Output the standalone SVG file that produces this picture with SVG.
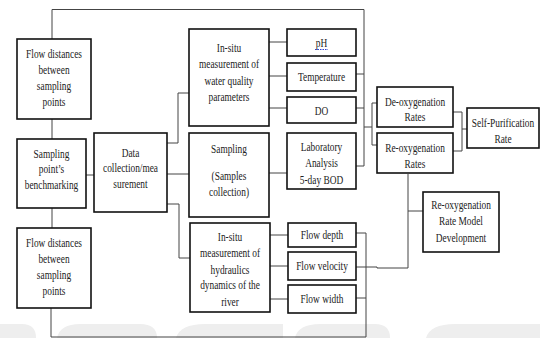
<svg xmlns="http://www.w3.org/2000/svg" width="540" height="338" viewBox="0 0 540 338" font-family="'Liberation Serif', 'Times New Roman', serif">
<style>
.bx{fill:#fff;stroke:#111;stroke-width:1.6}
.cn{fill:none;stroke:#444;stroke-width:1}
.wm{fill:#eeeeee;stroke:none}
text{font-family:'Liberation Serif','Times New Roman',serif;font-size:12px;font-weight:400;fill:#222;text-anchor:middle}
</style>
<rect width="540" height="338" fill="#fff"/>
<g id="watermark">
<path class="wm" d="M0,324 H22 Q36,324 36,338 H0 Z"/>
<path class="wm" d="M57,338 Q60,324 80,324 H140 Q157,324 157,338 Z"/>
<path class="wm" d="M176,338 Q180,324 205,324 H283 V338 Z"/>
<path class="wm" d="M295,338 Q298,324 320,324 H375 Q390,324 390,338 Z"/>
<path class="wm" d="M426,338 Q430,324 455,324 H540 V338 Z"/>
</g>
<g id="connectors">
<path class="cn" d="M52,39 V9.5 H364 V166 H356"/>
<path class="cn" d="M356,74 H364 M356,108 H364"/>
<path class="cn" d="M364,127 H372 M377,103 H372 V145 H377"/>
<path class="cn" d="M52,119 V139 M52,208 V228"/>
<path class="cn" d="M86,175 H94"/>
<path class="cn" d="M51,308 V337 H366 V233 H356 M356,298 H366"/>
<path class="cn" d="M356,267 H377 V268 H408 V174 M408,211 H423"/>
<path class="cn" d="M167,143 H178 V93 H189 M167,174 H189 M167,204 H179 V258 H190"/>
<path class="cn" d="M269,42 H287 M269,76 H287 M269,108 H287"/>
<path class="cn" d="M269,173 H287"/>
<path class="cn" d="M270,235 H288 M270,266 H288 M270,299 H288"/>
<path class="cn" d="M453,112 H462 V151 H453 M462,129 H467"/>
</g>
<g id="n-flowdist1">
<rect class="bx" x="17" y="39" width="74" height="80"/>
<text transform="translate(54,58) scale(0.78,1)">Flow distances</text>
<text transform="translate(54,74) scale(0.78,1)">between</text>
<text transform="translate(54,90) scale(0.78,1)">sampling</text>
<text transform="translate(54,106) scale(0.78,1)">points</text>
</g>
<g id="n-benchmark">
<rect class="bx" x="17" y="139" width="69" height="69"/>
<text transform="translate(51.5,158) scale(0.78,1)">Sampling</text>
<text transform="translate(51.5,173) scale(0.78,1)">point’s</text>
<text transform="translate(51.5,189) scale(0.78,1)">benchmarking</text>
</g>
<g id="n-flowdist2">
<rect class="bx" x="17" y="228" width="74" height="80"/>
<text transform="translate(54,247) scale(0.78,1)">Flow distances</text>
<text transform="translate(54,263) scale(0.78,1)">between</text>
<text transform="translate(54,279) scale(0.78,1)">sampling</text>
<text transform="translate(54,295) scale(0.78,1)">points</text>
</g>
<g id="n-data">
<rect class="bx" x="94" y="133" width="73" height="79"/>
<text transform="translate(130.5,157) scale(0.78,1)">Data</text>
<text transform="translate(130.5,172) scale(0.78,1)">collection/mea</text>
<text transform="translate(130.5,188) scale(0.78,1)">surement</text>
</g>
<g id="n-insitu-wq">
<rect class="bx" x="189" y="29" width="80" height="97"/>
<text transform="translate(229,52) scale(0.78,1)">In-situ</text>
<text transform="translate(229,68) scale(0.78,1)">measurement of</text>
<text transform="translate(229,85) scale(0.78,1)">water quality</text>
<text transform="translate(229,101) scale(0.78,1)">parameters</text>
</g>
<g id="n-sampling">
<rect class="bx" x="189" y="133" width="80" height="84"/>
<text transform="translate(229,153) scale(0.78,1)">Sampling</text>
<text transform="translate(229,180) scale(0.78,1)">(Samples</text>
<text transform="translate(229,196) scale(0.78,1)">collection)</text>
</g>
<g id="n-insitu-hyd">
<rect class="bx" x="190" y="223" width="80" height="89"/>
<text transform="translate(230,241) scale(0.78,1)">In-situ</text>
<text transform="translate(230,257) scale(0.78,1)">measurement of</text>
<text transform="translate(230,274) scale(0.78,1)">hydraulics</text>
<text transform="translate(230,289) scale(0.78,1)">dynamics of the</text>
<text transform="translate(230,306) scale(0.78,1)">river</text>
</g>
<g id="n-ph">
<rect class="bx" x="287" y="29" width="69" height="27"/>
<text transform="translate(321.5,47) scale(0.78,1)">pH</text>
<path d="M315,49.5 H328" stroke="#3344cc" stroke-width="1" stroke-dasharray="1.5 1"/>
</g>
<g id="n-temp">
<rect class="bx" x="287" y="63" width="69" height="28"/>
<text transform="translate(321.5,81) scale(0.78,1)">Temperature</text>
</g>
<g id="n-do">
<rect class="bx" x="287" y="97" width="69" height="26"/>
<text transform="translate(321.5,114.5) scale(0.78,1)">DO</text>
</g>
<g id="n-lab">
<rect class="bx" x="287" y="133" width="69" height="56"/>
<text transform="translate(321.5,151) scale(0.78,1)">Laboratory</text>
<text transform="translate(321.5,167) scale(0.78,1)">Analysis</text>
<text transform="translate(321.5,184) scale(0.78,1)">5-day BOD</text>
</g>
<g id="n-depth">
<rect class="bx" x="288" y="223" width="68" height="24"/>
<text transform="translate(322,239) scale(0.78,1)">Flow depth</text>
</g>
<g id="n-velocity">
<rect class="bx" x="288" y="252" width="68" height="28"/>
<text transform="translate(322,270) scale(0.78,1)">Flow velocity</text>
</g>
<g id="n-width">
<rect class="bx" x="288" y="285" width="68" height="28"/>
<text transform="translate(322,303) scale(0.78,1)">Flow width</text>
</g>
<g id="n-deox">
<rect class="bx" x="377" y="87" width="76" height="40"/>
<text transform="translate(415,106) scale(0.78,1)">De-oxygenation</text>
<text transform="translate(415,121) scale(0.78,1)">Rates</text>
</g>
<g id="n-reox">
<rect class="bx" x="377" y="133" width="76" height="40"/>
<text transform="translate(415,152) scale(0.78,1)">Re-oxygenation</text>
<text transform="translate(415,168) scale(0.78,1)">Rates</text>
</g>
<g id="n-selfpur">
<rect class="bx" x="467" y="108" width="72" height="40"/>
<text transform="translate(503,127) scale(0.78,1)">Self-Purification</text>
<text transform="translate(503,143) scale(0.78,1)">Rate</text>
</g>
<g id="n-model">
<rect class="bx" x="423" y="192" width="76" height="60"/>
<text transform="translate(461,209) scale(0.78,1)">Re-oxygenation</text>
<text transform="translate(461,225) scale(0.78,1)">Rate Model</text>
<text transform="translate(461,242) scale(0.78,1)">Development</text>
</g>
</svg>
